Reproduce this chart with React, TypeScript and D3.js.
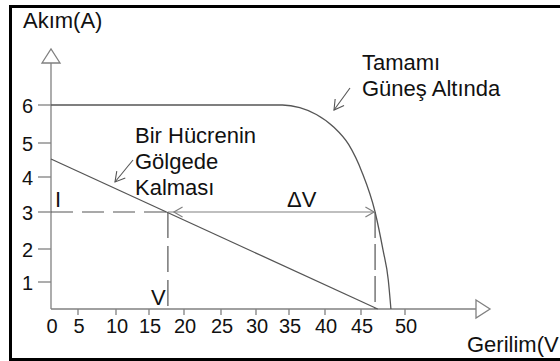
import React from "react";
import * as d3 from "d3";

// ---- data ----
const xTickValues = [0, 5, 10, 15, 20, 25, 30, 35, 40, 45, 50];
const yTickValues = [0, 1, 2, 3, 4, 5, 6];
const yTickLabels = ["", "1", "2", "3", "4", "5", "6"];

// Full-sun I-V curve (V, I)
const fullSunV = [0, 34.0, 36.5, 38.8, 41.2, 43.3, 45.1, 46.6, 47.5, 48.1, 48.4];
const fullSunI = [6, 6, 5.93, 5.75, 5.42, 4.95, 4.15, 3, 1.97, 1.06, 0];

// Shaded cell line (V, I)
const shadedV = [0, 46.9];
const shadedI = [4.53, 0];

const opV = 17.7; // V
const opI = 3; // I
const deltaEndV = 46.6;

const xAxisLabel = "Gerilim(V";
const yAxisLabel = "Akım(A)";

export default function App() {
  const W = 560;
  const H = 361;
  // irregular, hand-drawn axis spacing
  const x = d3
    .scaleLinear()
    .domain(xTickValues)
    .range([51, 78, 116, 149, 184, 221, 256, 289, 325, 361, 405]);
  const y = d3
    .scaleLinear()
    .domain(yTickValues)
    .range([309, 282, 249, 212, 177, 143, 105]);

  const line = d3
    .line<[number, number]>()
    .x((d) => x(d[0]))
    .y((d) => y(d[1]));
  const curve = d3
    .line<[number, number]>()
    .x((d) => x(d[0]))
    .y((d) => y(d[1]))
    .curve(d3.curveMonotoneX);

  const fullSun: [number, number][] = fullSunV.map((v, i) => [v, fullSunI[i]]);
  const shaded: [number, number][] = shadedV.map((v, i) => [v, shadedI[i]]);

  const x0 = x(0);
  const y0 = y(0);
  const axisColor = "#808080";
  const curveColor = "#555";
  const font = "'Liberation Sans', Arial, sans-serif";

  const arrowHead = (tx: number, ty: number, fx: number, fy: number, len = 10) => {
    const a = Math.atan2(ty - fy, tx - fx);
    const s = Math.PI / 6;
    const p1 = [tx - len * Math.cos(a - s), ty - len * Math.sin(a - s)];
    const p2 = [tx - len * Math.cos(a + s), ty - len * Math.sin(a + s)];
    return `M${p1[0]},${p1[1]}L${tx},${ty}L${p2[0]},${p2[1]}`;
  };

  const xo = x(opV);
  const yo = y(opI);
  const xd = x(deltaEndV);

  return (
    <svg
      width={W}
      height={H}
      style={{ position: "absolute", left: 0, top: 0, background: "#fff" }}
      fontFamily={font}
    >
      <rect x={0} y={0} width={W} height={H} fill="#fff" />
      <rect x={10.5} y={6.5} width={W} height={353} fill="none" stroke="#000" strokeWidth={3} />

      {/* axes */}
      <line x1={x0} y1={y0} x2={x0} y2={63} stroke={axisColor} strokeWidth={1.3} />
      <path d={`M${x0 - 9},63L${x0},49L${x0 + 9},63Z`} fill="#fff" stroke={axisColor} strokeWidth={1.3} />
      <line x1={x0} y1={y0} x2={476} y2={y0} stroke={axisColor} strokeWidth={1.3} />
      <path d={`M476,${y0 - 9}L490,${y0}L476,${y0 + 9}Z`} fill="#fff" stroke={axisColor} strokeWidth={1.3} />

      {/* y ticks */}
      {yTickValues.slice(1).map((v, i) => (
        <g key={"y" + v}>
          <line x1={38} x2={x0} y1={y(v)} y2={y(v)} stroke={axisColor} strokeWidth={1.3} />
          <text x={33} y={y(v) + 7.5} fontSize={20} textAnchor="end" fill="#111">
            {yTickLabels[i + 1]}
          </text>
        </g>
      ))}
      {/* x ticks */}
      {xTickValues.map((v) => (
        <g key={"x" + v}>
          {v !== 0 && <line x1={x(v)} x2={x(v)} y1={y0} y2={y0 + 6} stroke={axisColor} strokeWidth={1.3} />}
          <text x={x(v) + 1} y={333} fontSize={20} textAnchor="middle" fill="#111">
            {v}
          </text>
        </g>
      ))}

      {/* curves */}
      <path d={curve(fullSun) || ""} fill="none" stroke={curveColor} strokeWidth={1.3} />
      <path d={line(shaded) || ""} fill="none" stroke={curveColor} strokeWidth={1.3} />

      {/* dashed guides */}
      <line x1={x0} y1={yo} x2={xo} y2={yo} stroke={curveColor} strokeWidth={1.2} strokeDasharray="22,9" />
      <line x1={xo} y1={yo} x2={xo} y2={y0} stroke={curveColor} strokeWidth={1.2} strokeDasharray="26,8" />
      <line x1={xd} y1={yo} x2={xd} y2={y0} stroke={curveColor} strokeWidth={1.2} strokeDasharray="26,6" />

      {/* ΔV arrow */}
      <line x1={xo} y1={yo} x2={xd} y2={yo} stroke={axisColor} strokeWidth={1.2} />
      <path d={arrowHead(xo + 6, yo, xd, yo)} fill="none" stroke={axisColor} strokeWidth={1.2} />
      <path d={arrowHead(xd - 1, yo, xo, yo)} fill="none" stroke={axisColor} strokeWidth={1.2} />

      {/* annotation arrows */}
      <line x1={133} y1={160} x2={115} y2={182} stroke={curveColor} strokeWidth={1.1} />
      <path d={arrowHead(115, 182, 133, 160, 11)} fill="none" stroke={curveColor} strokeWidth={1.1} />
      <line x1={350} y1={88} x2={334} y2={110} stroke={curveColor} strokeWidth={1.1} />
      <path d={arrowHead(334, 110, 350, 88, 11)} fill="none" stroke={curveColor} strokeWidth={1.1} />

      {/* text */}
      <g fill="#111" fontSize={22}>
        <text x={23} y={28}>{yAxisLabel}</text>
        <text x={467} y={352}>{xAxisLabel}</text>
        <text x={362} y={70}>Tamamı</text>
        <text x={362} y={96}>Güneş Altında</text>
        <text x={135} y={143}>Bir Hücrenin</text>
        <text x={135} y={169}>Gölgede</text>
        <text x={135} y={195}>Kalması</text>
        <text x={55} y={207}>I</text>
        <text x={151} y={305}>V</text>
        <text x={287} y={207}>ΔV</text>
      </g>
    </svg>
  );
}
